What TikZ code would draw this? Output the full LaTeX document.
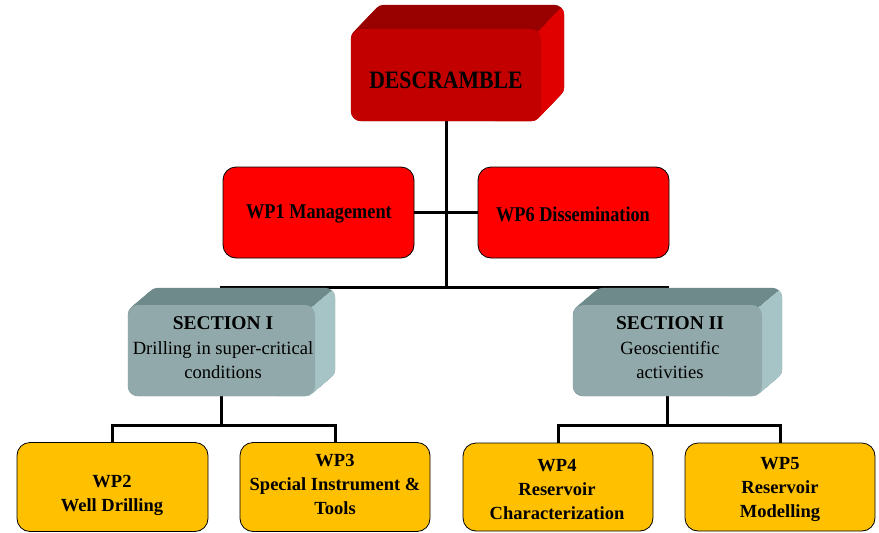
\documentclass[tikz,border=0pt]{standalone}
\usepackage{fontspec}
\setmainfont{Liberation Serif}
\newfontfamily\condserif[FakeStretch=0.87]{Liberation Serif}
\usetikzlibrary{calc}
\pgfdeclarelayer{connlayer}
\pgfdeclarelayer{facelayer}
\pgfsetlayers{connlayer,facelayer,main}
\definecolor{redfront}{HTML}{C20000}
\definecolor{redtop}{HTML}{990000}
\definecolor{redside}{HTML}{E00000}
\definecolor{wpred}{HTML}{FF0000}
\definecolor{secfront}{HTML}{91A9AA}
\definecolor{sectop}{HTML}{6F8A8B}
\definecolor{secside}{HTML}{A6C4C6}
\definecolor{wpyellow}{HTML}{FFC000}
% #1 node, #2 top colour, #3 side colour, #4 dx, #5 dy, #6 radius
\newcommand{\extrudebox}[6]{%
  \begin{pgfonlayer}{facelayer}
  \foreach \i in {0,...,24}{%
    \fill[#2,rounded corners=#6] ($(#1.north west)+{\i/24}*(#4,#5)$) rectangle ($(#1.south east)+{\i/24}*(#4,#5)$);}
  \begin{scope}
    \clip ($(#1.north east)-2*(#4,#5)$) -- ($(#1.north east)+2*(#4,#5)$) -- ++(300,0) -- ++(0,400) -- ($(#1.north east)-2*(#4,#5)+(0,400)$) -- cycle;
    \foreach \i in {0,...,24}{%
      \fill[#3,rounded corners=#6] ($(#1.north west)+{\i/24}*(#4,#5)$) rectangle ($(#1.south east)+{\i/24}*(#4,#5)$);}
  \end{scope}
  \end{pgfonlayer}}
\tikzset{
  front3d/.style={rectangle, rounded corners=10pt, inner sep=0pt},
  flatbox/.style={rectangle, rounded corners=13pt, draw=black, line width=0.8pt, inner sep=0pt},
  conn/.style={line width=3pt, black},
  txt/.style={inner sep=0pt, align=center, text=black},
  sectxt/.style={txt, font=\fontsize{18.6}{24.5}\selectfont},
  wptxt/.style={txt, font=\bfseries\fontsize{18.5}{24}\selectfont},
  redtxt/.style={txt, font=\condserif\bfseries\fontsize{21}{24}\selectfont},
}
\begin{document}
\begin{tikzpicture}[x=1pt,y=-1pt]
\useasboundingbox (0,0) rectangle (879,533);
% top box
\node[front3d, fill=redfront, minimum width=190pt, minimum height=92pt] (desc) at (446,75) {};
\extrudebox{desc}{redtop}{redside}{23}{-24}{10pt}
\node[txt, font=\condserif\bfseries\fontsize{25}{28}\selectfont] (descT) at (446,80) {DESCRAMBLE};
% WP1 / WP6
\node[flatbox, fill=wpred, minimum width=191pt, minimum height=91pt] (wp1) at (318.5,212.5) {};
\node[redtxt] (wp1T) at (319,214) {WP1 Management};
\node[flatbox, fill=wpred, minimum width=191pt, minimum height=91pt] (wp6) at (573.5,212.5) {};
\node[redtxt] (wp6T) at (573,214) {WP6 Dissemination};
% sections
\node[front3d, fill=secfront, minimum width=187pt, minimum height=91pt] (secI) at (221.5,350.5) {};
\extrudebox{secI}{sectop}{secside}{20}{-17}{10pt}
\node[sectxt] (secIT) at (223,348) {\textbf{\fontsize{19.5}{24.5}\selectfont SECTION I}\\Drilling in super-critical\\conditions};
\node[front3d, fill=secfront, minimum width=189pt, minimum height=91pt] (secII) at (667.5,350.5) {};
\extrudebox{secII}{sectop}{secside}{20}{-17}{10pt}
\node[sectxt] (secIIT) at (670,348) {\textbf{\fontsize{19.5}{24.5}\selectfont SECTION II}\\Geoscientific\\activities};
% WP2-WP5
\node[flatbox, fill=wpyellow, minimum width=191pt, minimum height=89pt] (wp2) at (112.5,487) {};
\node[wptxt] (wp2T) at (112,495) {WP2\\Well Drilling};
\node[flatbox, fill=wpyellow, minimum width=190pt, minimum height=89pt] (wp3) at (335,487) {};
\node[wptxt] (wp3T) at (335,484) {WP3\\Special Instrument \&\\Tools};
\node[flatbox, fill=wpyellow, minimum width=190pt, minimum height=88pt] (wp4) at (558,487) {};
\node[wptxt] (wp4T) at (557,489) {WP4\\Reservoir\\Characterization};
\node[flatbox, fill=wpyellow, minimum width=190pt, minimum height=88pt] (wp5) at (780,487) {};
\node[wptxt] (wp5T) at (780,489) {WP5\\Reservoir\\Modelling};
% connectors
\coordinate (busA) at (desc.south |- 0,287);
\coordinate (busL) at (secI.south |- 0,425);
\coordinate (busR) at (secII.south |- 0,425);
\begin{pgfonlayer}{connlayer}
\draw[conn] (desc.south) -- (busA);
\draw[conn] (secI.north) |- (busA) -| (secII.north);
\draw[conn] (wp1.east) -- (wp6.west);
\draw[conn] (secI.south) -- (busL);
\draw[conn] (wp2.north) |- (busL) -| (wp3.north);
\draw[conn] (secII.south) -- (busR);
\draw[conn] (wp4.north) |- (busR) -| (wp5.north);
\end{pgfonlayer}
\end{tikzpicture}
\end{document}
